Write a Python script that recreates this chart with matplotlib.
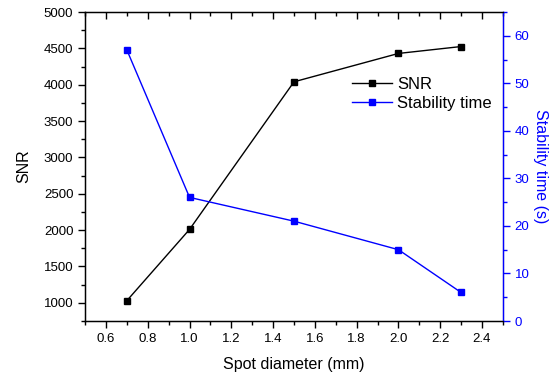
import matplotlib.pyplot as plt
from matplotlib.ticker import MultipleLocator

# spot diameter (mm) and the two measured series
diameter = [0.7, 1.0, 1.5, 2.0, 2.3]
snr = [1030, 2010, 4040, 4430, 4525]
stability_time = [57, 26, 21, 15, 6]

plt.rcParams['font.family'] = ['Liberation Sans', 'DejaVu Sans']

fig = plt.figure(figsize=(5.6, 3.75), dpi=100)
ax = fig.add_axes([0.152, 0.144, 0.746, 0.824])
ax2 = ax.twinx()

l1, = ax.plot(diameter, snr, color='black', marker='s', markersize=5, linewidth=1, label='SNR')
l2, = ax2.plot(diameter, stability_time, color='#0000ff', marker='s', markersize=5, linewidth=1, label='Stability time')

ax.set_xlim(0.5, 2.5)
ax.set_ylim(750, 5000)
ax2.set_ylim(0, 65)

ax.xaxis.set_major_locator(MultipleLocator(0.2))
ax.xaxis.set_minor_locator(MultipleLocator(0.1))
ax.yaxis.set_major_locator(MultipleLocator(500))
ax.yaxis.set_minor_locator(MultipleLocator(250))
ax2.yaxis.set_major_locator(MultipleLocator(10))
ax2.yaxis.set_minor_locator(MultipleLocator(5))

ax.set_xticks([0.6, 0.8, 1.0, 1.2, 1.4, 1.6, 1.8, 2.0, 2.2, 2.4])
ax.set_xticklabels(['0.6', '0.8', '1.0', '1.2', '1.4', '1.6', '1.8', '2.0', '2.2', '2.4'])

ax.tick_params(axis='both', which='major', direction='out', length=5, width=1, labelsize=9.5)
ax.tick_params(axis='both', which='minor', direction='out', length=3, width=1)
ax.tick_params(axis='x', top=True, which='both')
ax.tick_params(axis='x', which='major', top=True, labeltop=False)
ax2.tick_params(axis='y', which='major', direction='out', length=5, width=1,
                labelsize=9.5, colors='#0000ff', labelcolor='#0000ff')
ax2.tick_params(axis='y', which='minor', direction='out', length=3, width=1, colors='#0000ff')

# top ticks point into the plot
for t in ax.xaxis.get_major_ticks() + ax.xaxis.get_minor_ticks():
	t.tick2line.set_marker(3)

ax2.spines['right'].set_color('#0000ff')
for s in ['left', 'bottom', 'top']:
	ax.spines[s].set_linewidth(1)
ax2.spines['right'].set_linewidth(1)

ax.set_xlabel('Spot diameter (mm)', fontsize=11.5, labelpad=9)
ax.set_ylabel('SNR', fontsize=11.5, labelpad=9)
ax2.set_ylabel('Stability time (s)', fontsize=11.5, color='#0000ff', rotation=270, labelpad=13)

ax2.legend([l1, l2], ['SNR', 'Stability time'], loc='center left', bbox_to_anchor=(0.64, 0.735),
           frameon=False, fontsize=12, handlelength=2.4, handletextpad=0.3,
           borderpad=0, borderaxespad=0, labelspacing=0.2)

fig.savefig('out.png', dpi=100)
